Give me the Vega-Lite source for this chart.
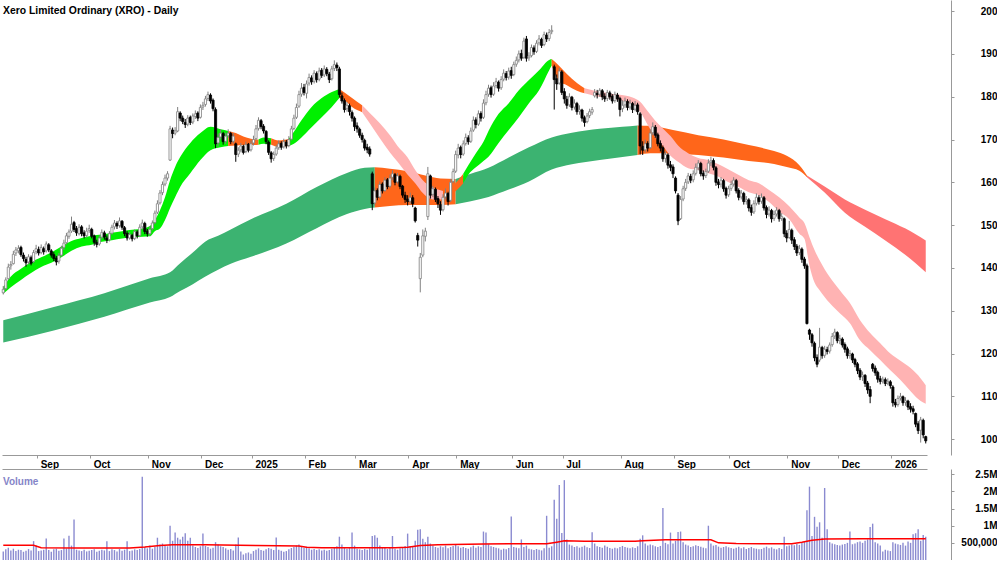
{
"$schema":"https://vega.github.io/schema/vega-lite/v6.json",
"padding":0,
"background":"white",
"spacing":0,
"config":{"view":{"stroke":null},"font":"Liberation Sans","axis":{"labelFont":"Liberation Sans","labelFontWeight":"bold","labelFontSize":10,"labelColor":"#000","domainColor":"#999","tickColor":"#999","grid":false,"labelOverlap":false}},
"datasets":{
"px":[
{"d":"2024-08-13","o":134.2,"h":135.8,"l":133.8,"c":135,"v":250000},
{"d":"2024-08-14","o":135.2,"h":137.8,"l":134.9,"c":137.2,"v":310000},
{"d":"2024-08-15","o":137.5,"h":141,"l":137.2,"c":140.2,"v":360000},
{"d":"2024-08-16","o":140.5,"h":141.6,"l":139.6,"c":140.8,"v":280000},
{"d":"2024-08-19","o":141,"h":144,"l":140.8,"c":143.2,"v":330000},
{"d":"2024-08-20","o":143.5,"h":144.9,"l":142.8,"c":144.2,"v":260000},
{"d":"2024-08-21","o":144,"h":145.3,"l":143.4,"c":144.6,"v":300000},
{"d":"2024-08-22","o":144.8,"h":145.2,"l":142.6,"c":143.1,"v":290000},
{"d":"2024-08-23","o":143,"h":143.6,"l":141.5,"c":142.2,"v":240000},
{"d":"2024-08-26","o":142,"h":142.6,"l":140.3,"c":141.2,"v":270000},
{"d":"2024-08-27","o":141.4,"h":143.2,"l":140.8,"c":142.6,"v":320000},
{"d":"2024-08-28","o":142.4,"h":142.9,"l":140.6,"c":141.1,"v":280000},
{"d":"2024-08-29","o":141.5,"h":144.2,"l":141.2,"c":143.6,"v":550000},
{"d":"2024-08-30","o":143.8,"h":145.4,"l":143.2,"c":144.5,"v":420000},
{"d":"2024-09-02","o":144.3,"h":145,"l":142.9,"c":143.5,"v":260000},
{"d":"2024-09-03","o":143.6,"h":145.5,"l":143.2,"c":144.8,"v":280000},
{"d":"2024-09-04","o":144.5,"h":145,"l":143.1,"c":143.8,"v":300000},
{"d":"2024-09-05","o":144,"h":146.2,"l":143.6,"c":145.6,"v":630000},
{"d":"2024-09-06","o":145.4,"h":145.8,"l":143.7,"c":144.2,"v":290000},
{"d":"2024-09-09","o":144,"h":144.4,"l":142.4,"c":143,"v":240000},
{"d":"2024-09-10","o":143.1,"h":143.7,"l":141.6,"c":142.2,"v":310000},
{"d":"2024-09-11","o":142.3,"h":142.8,"l":140.6,"c":141.4,"v":330000},
{"d":"2024-09-12","o":141.6,"h":143.5,"l":141,"c":142.9,"v":270000},
{"d":"2024-09-13","o":143,"h":145.2,"l":142.7,"c":144.6,"v":290000},
{"d":"2024-09-16","o":144.8,"h":146.6,"l":144.2,"c":145.8,"v":630000},
{"d":"2024-09-17","o":145.9,"h":148.2,"l":145.5,"c":147.5,"v":340000},
{"d":"2024-09-18","o":147.4,"h":149,"l":146.8,"c":148.4,"v":710000},
{"d":"2024-09-19","o":148.6,"h":152,"l":148.2,"c":150.2,"v":420000},
{"d":"2024-09-20","o":150.6,"h":151,"l":148.4,"c":149,"v":1180000},
{"d":"2024-09-23","o":149.2,"h":149.8,"l":147.5,"c":148.2,"v":300000},
{"d":"2024-09-24","o":148,"h":150.2,"l":147.6,"c":149.5,"v":280000},
{"d":"2024-09-25","o":149.6,"h":150,"l":147.4,"c":148,"v":260000},
{"d":"2024-09-26","o":148.2,"h":148.8,"l":146.9,"c":147.5,"v":300000},
{"d":"2024-09-27","o":147.6,"h":149.4,"l":147.1,"c":148.6,"v":250000},
{"d":"2024-09-30","o":148.8,"h":150.1,"l":148.2,"c":149.2,"v":270000},
{"d":"2024-10-01","o":149,"h":149.4,"l":146.9,"c":147.4,"v":290000},
{"d":"2024-10-02","o":147.5,"h":147.8,"l":145.2,"c":146,"v":310000},
{"d":"2024-10-03","o":146,"h":146.6,"l":144.8,"c":145.5,"v":240000},
{"d":"2024-10-04","o":145.6,"h":147.6,"l":145.2,"c":147,"v":270000},
{"d":"2024-10-07","o":147.2,"h":149,"l":146.8,"c":148.3,"v":300000},
{"d":"2024-10-08","o":148.2,"h":148.7,"l":146.6,"c":147.2,"v":280000},
{"d":"2024-10-09","o":147,"h":147.6,"l":145.8,"c":146.5,"v":550000},
{"d":"2024-10-10","o":146.6,"h":148.6,"l":146.2,"c":148,"v":260000},
{"d":"2024-10-11","o":148.1,"h":150.1,"l":147.8,"c":149.5,"v":310000},
{"d":"2024-10-14","o":149.6,"h":151.2,"l":149,"c":150.5,"v":290000},
{"d":"2024-10-15","o":150.4,"h":150.9,"l":149.1,"c":149.8,"v":250000},
{"d":"2024-10-16","o":149.9,"h":151.8,"l":149.4,"c":151,"v":320000},
{"d":"2024-10-17","o":150.9,"h":151.2,"l":148.9,"c":149.5,"v":270000},
{"d":"2024-10-18","o":149.4,"h":149.8,"l":147.4,"c":148,"v":300000},
{"d":"2024-10-21","o":148.1,"h":148.6,"l":146.4,"c":147,"v":550000},
{"d":"2024-10-22","o":147,"h":148.4,"l":146.6,"c":147.8,"v":260000},
{"d":"2024-10-23","o":147.6,"h":148,"l":146.2,"c":146.8,"v":280000},
{"d":"2024-10-24","o":146.9,"h":149,"l":146.5,"c":148.5,"v":310000},
{"d":"2024-10-25","o":148.4,"h":148.8,"l":146.9,"c":147.5,"v":290000},
{"d":"2024-10-28","o":147.6,"h":150.2,"l":147.2,"c":149.5,"v":320000},
{"d":"2024-10-29","o":149.6,"h":151.3,"l":149,"c":150.5,"v":2430000},
{"d":"2024-10-30","o":150.4,"h":150.8,"l":147.9,"c":148.5,"v":380000},
{"d":"2024-10-31","o":148.6,"h":149.1,"l":147.3,"c":148,"v":340000},
{"d":"2024-11-01","o":148,"h":149.7,"l":147.5,"c":149,"v":420000},
{"d":"2024-11-04","o":149.2,"h":151.1,"l":148.8,"c":150.5,"v":330000},
{"d":"2024-11-05","o":150.6,"h":153.4,"l":150.2,"c":152.8,"v":390000},
{"d":"2024-11-06","o":153,"h":155.8,"l":152.6,"c":155,"v":650000},
{"d":"2024-11-07","o":155.2,"h":158.2,"l":154.8,"c":157.5,"v":450000},
{"d":"2024-11-08","o":157.6,"h":160.2,"l":157,"c":159.5,"v":480000},
{"d":"2024-11-11","o":159.6,"h":161.8,"l":159.1,"c":161,"v":420000},
{"d":"2024-11-12","o":161,"h":162.6,"l":160.4,"c":162,"v":400000},
{"d":"2024-11-13","o":165.2,"h":173.2,"l":165,"c":172.5,"v":1000000},
{"d":"2024-11-14","o":172.2,"h":172.8,"l":170.3,"c":171.4,"v":560000},
{"d":"2024-11-15","o":171.5,"h":172.9,"l":171,"c":172,"v":800000},
{"d":"2024-11-18","o":172,"h":177.6,"l":171.7,"c":176.5,"v":650000},
{"d":"2024-11-19","o":176.2,"h":176.6,"l":174.3,"c":175,"v":600000},
{"d":"2024-11-20","o":175,"h":175.6,"l":173.6,"c":174.2,"v":680000},
{"d":"2024-11-21","o":174,"h":174.8,"l":172.7,"c":173.5,"v":780000},
{"d":"2024-11-22","o":173.6,"h":175.7,"l":173.1,"c":175,"v":560000},
{"d":"2024-11-25","o":175.2,"h":175.6,"l":173.4,"c":174,"v":650000},
{"d":"2024-11-26","o":174.1,"h":176.1,"l":173.6,"c":175.5,"v":420000},
{"d":"2024-11-27","o":175.4,"h":176.8,"l":174.8,"c":176,"v":380000},
{"d":"2024-11-28","o":176.2,"h":176.6,"l":174.3,"c":175,"v":350000},
{"d":"2024-11-29","o":175.2,"h":178.2,"l":174.9,"c":177.5,"v":400000},
{"d":"2024-12-02","o":177.6,"h":178.8,"l":176.9,"c":178,"v":770000},
{"d":"2024-12-03","o":178.2,"h":180.2,"l":177.7,"c":179.5,"v":410000},
{"d":"2024-12-04","o":179.6,"h":181.2,"l":179,"c":180.5,"v":380000},
{"d":"2024-12-05","o":180.4,"h":180.8,"l":178.4,"c":179,"v":330000},
{"d":"2024-12-06","o":179.2,"h":179.6,"l":176.6,"c":177.2,"v":360000},
{"d":"2024-12-09","o":177,"h":177.5,"l":168,"c":169,"v":520000},
{"d":"2024-12-10","o":169.2,"h":171.4,"l":168.4,"c":170.5,"v":450000},
{"d":"2024-12-11","o":170.6,"h":172.4,"l":170,"c":171.5,"v":400000},
{"d":"2024-12-12","o":171.4,"h":171.8,"l":168.8,"c":169.5,"v":380000},
{"d":"2024-12-13","o":169.6,"h":171.6,"l":169,"c":170.8,"v":340000},
{"d":"2024-12-16","o":170.9,"h":172.4,"l":170.4,"c":171.5,"v":300000},
{"d":"2024-12-17","o":171.4,"h":171.8,"l":168.9,"c":169.5,"v":320000},
{"d":"2024-12-18","o":169.6,"h":171.5,"l":169.1,"c":170.8,"v":280000},
{"d":"2024-12-19","o":169,"h":169.3,"l":164.8,"c":166.5,"v":450000},
{"d":"2024-12-20","o":166.6,"h":168.2,"l":165.9,"c":167.5,"v":660000},
{"d":"2024-12-23","o":167.6,"h":169.2,"l":167,"c":168.5,"v":250000},
{"d":"2024-12-24","o":168.4,"h":168.8,"l":166.5,"c":167,"v":160000},
{"d":"2024-12-27","o":167.2,"h":169.5,"l":166.8,"c":168.8,"v":200000},
{"d":"2024-12-30","o":168.9,"h":169.2,"l":167,"c":167.5,"v":220000},
{"d":"2024-12-31","o":167.6,"h":169.8,"l":167.2,"c":169,"v":180000},
{"d":"2025-01-02","o":169.2,"h":170.9,"l":168.6,"c":170,"v":260000},
{"d":"2025-01-03","o":170.2,"h":173.4,"l":169.8,"c":172.5,"v":300000},
{"d":"2025-01-06","o":172.6,"h":175.2,"l":172.1,"c":174.5,"v":340000},
{"d":"2025-01-07","o":174.4,"h":174.8,"l":172.4,"c":173,"v":290000},
{"d":"2025-01-08","o":173.1,"h":173.6,"l":171.4,"c":172,"v":270000},
{"d":"2025-01-09","o":171.9,"h":172.2,"l":168.9,"c":169.5,"v":310000},
{"d":"2025-01-10","o":169.4,"h":169.8,"l":166.4,"c":167,"v":350000},
{"d":"2025-01-13","o":166.9,"h":167.3,"l":164.6,"c":165.5,"v":330000},
{"d":"2025-01-14","o":165.6,"h":167.2,"l":165,"c":166.5,"v":290000},
{"d":"2025-01-15","o":166.6,"h":168.7,"l":166.2,"c":168,"v":660000},
{"d":"2025-01-16","o":168.1,"h":169.8,"l":167.6,"c":169,"v":300000},
{"d":"2025-01-17","o":169.1,"h":169.6,"l":167.6,"c":168.2,"v":270000},
{"d":"2025-01-20","o":168.3,"h":170.2,"l":167.9,"c":169.5,"v":240000},
{"d":"2025-01-21","o":169.4,"h":169.9,"l":167.9,"c":168.5,"v":260000},
{"d":"2025-01-22","o":168.6,"h":170.8,"l":168.2,"c":170,"v":310000},
{"d":"2025-01-23","o":170.1,"h":173.2,"l":169.8,"c":172.5,"v":350000},
{"d":"2025-01-24","o":172.6,"h":175.8,"l":172.2,"c":175,"v":380000},
{"d":"2025-01-28","o":175.2,"h":178.4,"l":174.8,"c":177.5,"v":420000},
{"d":"2025-01-29","o":177.8,"h":181.4,"l":177.4,"c":180.5,"v":450000},
{"d":"2025-01-30","o":180.6,"h":183.2,"l":180,"c":182,"v":400000},
{"d":"2025-01-31","o":182.2,"h":183,"l":180.3,"c":181,"v":360000},
{"d":"2025-02-03","o":180.8,"h":183.8,"l":179.6,"c":183,"v":390000},
{"d":"2025-02-04","o":183.2,"h":185.4,"l":182.6,"c":184.5,"v":340000},
{"d":"2025-02-05","o":184.4,"h":185,"l":182.8,"c":183.5,"v":300000},
{"d":"2025-02-06","o":183.6,"h":186.2,"l":183.1,"c":185.5,"v":320000},
{"d":"2025-02-07","o":185.4,"h":185.9,"l":183.3,"c":184,"v":290000},
{"d":"2025-02-10","o":184.1,"h":186.8,"l":183.6,"c":186,"v":310000},
{"d":"2025-02-11","o":186.2,"h":186.7,"l":184.4,"c":185,"v":280000},
{"d":"2025-02-12","o":185.1,"h":187.3,"l":184.6,"c":186.5,"v":300000},
{"d":"2025-02-13","o":186.4,"h":186.9,"l":184.8,"c":185.4,"v":270000},
{"d":"2025-02-14","o":185.3,"h":185.8,"l":183.2,"c":184,"v":290000},
{"d":"2025-02-17","o":184.2,"h":187.2,"l":183.8,"c":186.5,"v":330000},
{"d":"2025-02-18","o":186.6,"h":188.5,"l":186,"c":187.5,"v":360000},
{"d":"2025-02-19","o":187.4,"h":188,"l":186,"c":186.8,"v":400000},
{"d":"2025-02-20","o":186.5,"h":187,"l":179.8,"c":180.5,"v":680000},
{"d":"2025-02-21","o":180.2,"h":181,"l":178.4,"c":179,"v":450000},
{"d":"2025-02-24","o":179.1,"h":179.6,"l":176.3,"c":177,"v":380000},
{"d":"2025-02-25","o":177.2,"h":178.8,"l":176.5,"c":178,"v":330000},
{"d":"2025-02-26","o":177.9,"h":178.4,"l":175.6,"c":176.5,"v":360000},
{"d":"2025-02-27","o":176.3,"h":176.8,"l":174.2,"c":175,"v":800000},
{"d":"2025-02-28","o":175,"h":175.4,"l":172,"c":173,"v":420000},
{"d":"2025-03-03","o":173.2,"h":174,"l":171.6,"c":172.5,"v":330000},
{"d":"2025-03-04","o":172.4,"h":172.8,"l":170.4,"c":171,"v":310000},
{"d":"2025-03-05","o":171,"h":171.6,"l":169.3,"c":170,"v":290000},
{"d":"2025-03-06","o":169.8,"h":170.2,"l":167.4,"c":168,"v":320000},
{"d":"2025-03-07","o":168.2,"h":169,"l":166.8,"c":167.6,"v":300000},
{"d":"2025-03-10","o":167.8,"h":168.4,"l":166,"c":166.6,"v":340000},
{"d":"2025-03-11","o":162,"h":162.5,"l":153.5,"c":155,"v":700000},
{"d":"2025-03-12","o":155.2,"h":158.8,"l":154.6,"c":158,"v":720000},
{"d":"2025-03-13","o":158.1,"h":158.6,"l":155.8,"c":156.5,"v":650000},
{"d":"2025-03-14","o":156.6,"h":160.2,"l":156.2,"c":159.5,"v":420000},
{"d":"2025-03-17","o":159.6,"h":160,"l":157.4,"c":158,"v":380000},
{"d":"2025-03-18","o":158.1,"h":161.2,"l":157.8,"c":160.5,"v":350000},
{"d":"2025-03-19","o":160.6,"h":161,"l":158.4,"c":159,"v":320000},
{"d":"2025-03-20","o":159.1,"h":161.8,"l":158.7,"c":161,"v":360000},
{"d":"2025-03-21","o":161.2,"h":162.8,"l":160.5,"c":162,"v":700000},
{"d":"2025-03-24","o":161.8,"h":162.2,"l":159.3,"c":160,"v":330000},
{"d":"2025-03-25","o":160.1,"h":162.2,"l":159.7,"c":161.5,"v":300000},
{"d":"2025-03-26","o":161.4,"h":161.8,"l":158.4,"c":159,"v":340000},
{"d":"2025-03-27","o":159.1,"h":159.4,"l":156.4,"c":157,"v":380000},
{"d":"2025-03-28","o":157,"h":157.8,"l":155.2,"c":156,"v":410000},
{"d":"2025-03-31","o":156.1,"h":157,"l":154.6,"c":155.5,"v":770000},
{"d":"2025-04-01","o":155.6,"h":157.6,"l":154.8,"c":156.5,"v":400000},
{"d":"2025-04-02","o":156.4,"h":157,"l":154.2,"c":155,"v":380000},
{"d":"2025-04-03","o":154,"h":154.3,"l":150.6,"c":151,"v":560000},
{"d":"2025-04-04","o":147.6,"h":148.2,"l":145,"c":146.5,"v":880000},
{"d":"2025-04-07","o":137.5,"h":143.5,"l":134.3,"c":142.5,"v":900000},
{"d":"2025-04-08","o":143,"h":149,"l":142.5,"c":147.5,"v":620000},
{"d":"2025-04-09","o":147.4,"h":149.4,"l":146.2,"c":148.6,"v":520000},
{"d":"2025-04-10","o":152,"h":163.6,"l":151.2,"c":162,"v":680000},
{"d":"2025-04-11","o":161.5,"h":161.8,"l":156.2,"c":157,"v":480000},
{"d":"2025-04-14","o":157.2,"h":159.2,"l":156.6,"c":158.5,"v":420000},
{"d":"2025-04-15","o":158.4,"h":158.8,"l":155.4,"c":156,"v":380000},
{"d":"2025-04-16","o":156.2,"h":156.8,"l":154,"c":155,"v":360000},
{"d":"2025-04-17","o":154.8,"h":155.6,"l":152.4,"c":153.5,"v":400000},
{"d":"2025-04-22","o":153.6,"h":157.2,"l":153.2,"c":156.5,"v":370000},
{"d":"2025-04-23","o":156.6,"h":158.6,"l":156,"c":157.5,"v":420000},
{"d":"2025-04-24","o":157.4,"h":157.8,"l":154.6,"c":155.5,"v":340000},
{"d":"2025-04-28","o":155.8,"h":160.8,"l":155.4,"c":160,"v":380000},
{"d":"2025-04-29","o":160.2,"h":163.2,"l":159.8,"c":162.5,"v":410000},
{"d":"2025-04-30","o":162.6,"h":167.4,"l":162.2,"c":166.5,"v":450000},
{"d":"2025-05-01","o":166.4,"h":169,"l":165.6,"c":168,"v":400000},
{"d":"2025-05-02","o":168.2,"h":168.6,"l":165.6,"c":166.5,"v":360000},
{"d":"2025-05-05","o":166.6,"h":169.8,"l":166.2,"c":169,"v":380000},
{"d":"2025-05-06","o":169.1,"h":171.4,"l":168.6,"c":170.5,"v":350000},
{"d":"2025-05-07","o":170.4,"h":171,"l":168.8,"c":169.5,"v":330000},
{"d":"2025-05-08","o":169.6,"h":172.8,"l":169.2,"c":172,"v":370000},
{"d":"2025-05-09","o":172.2,"h":175.4,"l":171.8,"c":174.5,"v":420000},
{"d":"2025-05-12","o":174.6,"h":175.2,"l":172.6,"c":173.5,"v":360000},
{"d":"2025-05-13","o":173.6,"h":176.8,"l":173.2,"c":176,"v":400000},
{"d":"2025-05-14","o":176.1,"h":176.6,"l":174.2,"c":175,"v":380000},
{"d":"2025-05-15","o":175.2,"h":179.4,"l":174.8,"c":178.5,"v":830000},
{"d":"2025-05-16","o":178.6,"h":181.4,"l":178,"c":180.5,"v":800000},
{"d":"2025-05-19","o":180.6,"h":182.8,"l":180,"c":182,"v":460000},
{"d":"2025-05-20","o":182.1,"h":182.6,"l":179.8,"c":180.5,"v":400000},
{"d":"2025-05-21","o":180.6,"h":183.4,"l":180.2,"c":182.5,"v":380000},
{"d":"2025-05-22","o":182.6,"h":184.4,"l":182,"c":183.5,"v":360000},
{"d":"2025-05-23","o":183.4,"h":183.8,"l":181.2,"c":182,"v":340000},
{"d":"2025-05-26","o":182.1,"h":184.8,"l":181.6,"c":184,"v":300000},
{"d":"2025-05-27","o":184.1,"h":186.4,"l":183.6,"c":185.5,"v":330000},
{"d":"2025-05-28","o":185.4,"h":186,"l":183.8,"c":184.5,"v":310000},
{"d":"2025-05-29","o":184.6,"h":186.8,"l":184,"c":186,"v":350000},
{"d":"2025-05-30","o":186.1,"h":187,"l":184.2,"c":185,"v":1270000},
{"d":"2025-06-02","o":185.2,"h":188.2,"l":184.8,"c":187.5,"v":380000},
{"d":"2025-06-03","o":187.6,"h":189.4,"l":187,"c":188.5,"v":360000},
{"d":"2025-06-04","o":188.6,"h":190.8,"l":188,"c":190,"v":340000},
{"d":"2025-06-05","o":190.1,"h":191,"l":188.4,"c":189,"v":600000},
{"d":"2025-06-06","o":189.2,"h":193.8,"l":188.8,"c":193,"v":380000},
{"d":"2025-06-10","o":193.5,"h":194.2,"l":188.2,"c":189,"v":420000},
{"d":"2025-06-11","o":189.1,"h":190.4,"l":188.4,"c":189.5,"v":330000},
{"d":"2025-06-12","o":189.6,"h":192.2,"l":189.2,"c":191.5,"v":310000},
{"d":"2025-06-13","o":191.4,"h":192,"l":189.8,"c":190.5,"v":290000},
{"d":"2025-06-16","o":190.6,"h":193.2,"l":190.2,"c":192.5,"v":320000},
{"d":"2025-06-17","o":192.6,"h":194.4,"l":192,"c":193.5,"v":300000},
{"d":"2025-06-18","o":193.4,"h":193.8,"l":191.4,"c":192,"v":280000},
{"d":"2025-06-19","o":192.2,"h":195.2,"l":191.8,"c":194.5,"v":340000},
{"d":"2025-06-20","o":194.4,"h":195,"l":192.8,"c":193.5,"v":1290000},
{"d":"2025-06-23","o":193.6,"h":195.8,"l":193,"c":195,"v":360000},
{"d":"2025-06-24","o":195.2,"h":196.7,"l":194.6,"c":195.5,"v":400000},
{"d":"2025-06-25","o":187,"h":187.5,"l":177,"c":184,"v":1760000},
{"d":"2025-06-26","o":184.2,"h":185.2,"l":181.6,"c":183,"v":1200000},
{"d":"2025-06-27","o":183.2,"h":186.8,"l":182.8,"c":186,"v":2190000},
{"d":"2025-06-30","o":185.8,"h":186.2,"l":180.4,"c":181,"v":790000},
{"d":"2025-07-01","o":181.2,"h":182,"l":178.4,"c":179.5,"v":2330000},
{"d":"2025-07-02","o":179.4,"h":180.2,"l":177.2,"c":178,"v":600000},
{"d":"2025-07-03","o":178.1,"h":180.8,"l":177.6,"c":180,"v":450000},
{"d":"2025-07-04","o":179.9,"h":180.2,"l":176.8,"c":177.5,"v":420000},
{"d":"2025-07-07","o":177.6,"h":179.4,"l":177,"c":178.5,"v":380000},
{"d":"2025-07-08","o":178.4,"h":178.8,"l":175.8,"c":176.5,"v":400000},
{"d":"2025-07-09","o":176.6,"h":178,"l":175.8,"c":177,"v":360000},
{"d":"2025-07-10","o":176.9,"h":177.2,"l":174.2,"c":175,"v":390000},
{"d":"2025-07-11","o":175.1,"h":175.6,"l":173,"c":174,"v":420000},
{"d":"2025-07-14","o":174.2,"h":176.2,"l":173.8,"c":175.5,"v":370000},
{"d":"2025-07-15","o":175.6,"h":177.2,"l":175,"c":176.5,"v":350000},
{"d":"2025-07-16","o":176.4,"h":177.6,"l":175.8,"c":177,"v":810000},
{"d":"2025-07-17","o":180.2,"h":181.8,"l":179.8,"c":181,"v":480000},
{"d":"2025-07-18","o":180.8,"h":181.6,"l":179.6,"c":180.5,"v":400000},
{"d":"2025-07-21","o":180.6,"h":182,"l":180,"c":181.5,"v":380000},
{"d":"2025-07-22","o":181.4,"h":181.8,"l":179.2,"c":180,"v":360000},
{"d":"2025-07-23","o":180.1,"h":180.8,"l":178.8,"c":179.5,"v":420000},
{"d":"2025-07-24","o":179.6,"h":181.6,"l":179,"c":181,"v":390000},
{"d":"2025-07-25","o":180.9,"h":181.4,"l":179.3,"c":180,"v":350000},
{"d":"2025-07-28","o":180.1,"h":180.6,"l":178.4,"c":179,"v":330000},
{"d":"2025-07-29","o":179.1,"h":181.2,"l":178.6,"c":180.5,"v":360000},
{"d":"2025-07-30","o":180.4,"h":180.9,"l":178.8,"c":179.5,"v":340000},
{"d":"2025-07-31","o":179.6,"h":180,"l":175.4,"c":177,"v":380000},
{"d":"2025-08-01","o":177.2,"h":179.2,"l":176.4,"c":178,"v":410000},
{"d":"2025-08-04","o":178.1,"h":179.8,"l":177.4,"c":179,"v":380000},
{"d":"2025-08-05","o":178.9,"h":179.4,"l":176.8,"c":177.5,"v":360000},
{"d":"2025-08-06","o":177.6,"h":179.3,"l":177,"c":178.5,"v":340000},
{"d":"2025-08-07","o":178.4,"h":178.8,"l":176.2,"c":177,"v":370000},
{"d":"2025-08-08","o":177.1,"h":179,"l":176.6,"c":178,"v":350000},
{"d":"2025-08-11","o":178.1,"h":178.6,"l":175.8,"c":176.5,"v":400000},
{"d":"2025-08-12","o":176,"h":176.4,"l":166.5,"c":168.5,"v":620000},
{"d":"2025-08-13","o":168.4,"h":169.6,"l":166.4,"c":167.5,"v":720000},
{"d":"2025-08-14","o":167.6,"h":170,"l":167,"c":169,"v":480000},
{"d":"2025-08-15","o":169.1,"h":169.6,"l":167.2,"c":168,"v":420000},
{"d":"2025-08-18","o":168.1,"h":172.4,"l":167.8,"c":171.5,"v":450000},
{"d":"2025-08-19","o":171.6,"h":174,"l":171,"c":173,"v":430000},
{"d":"2025-08-20","o":172.9,"h":173.4,"l":170.4,"c":171,"v":400000},
{"d":"2025-08-21","o":171.1,"h":171.6,"l":168.4,"c":169,"v":380000},
{"d":"2025-08-22","o":169.1,"h":169.8,"l":167.2,"c":168,"v":410000},
{"d":"2025-08-25","o":168.1,"h":168.6,"l":164.8,"c":165.5,"v":1520000},
{"d":"2025-08-26","o":165.6,"h":167.2,"l":164.6,"c":166.5,"v":500000},
{"d":"2025-08-27","o":166.4,"h":166.8,"l":163.2,"c":164,"v":460000},
{"d":"2025-08-28","o":164.1,"h":165,"l":162.6,"c":163.5,"v":800000},
{"d":"2025-08-29","o":163.6,"h":164.2,"l":161,"c":162,"v":480000},
{"d":"2025-09-01","o":161,"h":161.4,"l":157.4,"c":158,"v":560000},
{"d":"2025-09-02","o":157,"h":157.5,"l":150,"c":151,"v":820000},
{"d":"2025-09-03","o":151.5,"h":156.8,"l":151.2,"c":156,"v":830000},
{"d":"2025-09-04","o":156.1,"h":159.2,"l":155.6,"c":158.5,"v":520000},
{"d":"2025-09-05","o":158.6,"h":160.8,"l":158,"c":160,"v":450000},
{"d":"2025-09-08","o":160.1,"h":162.2,"l":159.6,"c":161.5,"v":420000},
{"d":"2025-09-09","o":161.4,"h":162,"l":159.8,"c":160.5,"v":380000},
{"d":"2025-09-10","o":160.6,"h":162.8,"l":160,"c":162,"v":400000},
{"d":"2025-09-11","o":162.1,"h":164.4,"l":161.6,"c":163.5,"v":430000},
{"d":"2025-09-12","o":163.4,"h":165.2,"l":162.8,"c":164.5,"v":410000},
{"d":"2025-09-15","o":164.4,"h":164.8,"l":161.4,"c":162,"v":390000},
{"d":"2025-09-16","o":162.1,"h":162.8,"l":160.6,"c":161.5,"v":360000},
{"d":"2025-09-17","o":161.6,"h":163.2,"l":161,"c":162.5,"v":340000},
{"d":"2025-09-18","o":162.6,"h":165.4,"l":162.2,"c":164.5,"v":1000000},
{"d":"2025-09-19","o":164.6,"h":166,"l":163.8,"c":165,"v":480000},
{"d":"2025-09-22","o":165.1,"h":165.6,"l":162.8,"c":163.5,"v":420000},
{"d":"2025-09-23","o":163.4,"h":163.8,"l":159.2,"c":160,"v":440000},
{"d":"2025-09-24","o":160.1,"h":160.8,"l":158.6,"c":159.5,"v":390000},
{"d":"2025-09-25","o":159.6,"h":161.2,"l":158.8,"c":160.5,"v":360000},
{"d":"2025-09-26","o":160.4,"h":160.8,"l":157.8,"c":158.5,"v":380000},
{"d":"2025-09-29","o":158.6,"h":159,"l":156.2,"c":157,"v":400000},
{"d":"2025-09-30","o":157.1,"h":159.2,"l":156.6,"c":158.5,"v":370000},
{"d":"2025-10-01","o":158.6,"h":160.4,"l":158,"c":159.5,"v":350000},
{"d":"2025-10-02","o":159.6,"h":161.2,"l":159,"c":160.5,"v":330000},
{"d":"2025-10-03","o":160.4,"h":160.8,"l":157.4,"c":158,"v":360000},
{"d":"2025-10-06","o":158.1,"h":158.6,"l":155.8,"c":156.5,"v":390000},
{"d":"2025-10-07","o":156.6,"h":158.2,"l":156,"c":157.5,"v":340000},
{"d":"2025-10-08","o":157.4,"h":157.8,"l":154.8,"c":155.5,"v":370000},
{"d":"2025-10-09","o":155.6,"h":156.8,"l":154.8,"c":156,"v":320000},
{"d":"2025-10-10","o":155.9,"h":156.3,"l":153.2,"c":154,"v":350000},
{"d":"2025-10-13","o":154.1,"h":154.8,"l":152.2,"c":153,"v":380000},
{"d":"2025-10-14","o":153.1,"h":155.8,"l":152.6,"c":155,"v":340000},
{"d":"2025-10-15","o":155.1,"h":157.4,"l":154.6,"c":156.5,"v":330000},
{"d":"2025-10-16","o":156.4,"h":157,"l":154.8,"c":155.5,"v":310000},
{"d":"2025-10-17","o":155.6,"h":157.4,"l":155,"c":156.5,"v":320000},
{"d":"2025-10-20","o":156.4,"h":156.8,"l":153.4,"c":154,"v":360000},
{"d":"2025-10-21","o":154.1,"h":154.6,"l":151.6,"c":152.5,"v":390000},
{"d":"2025-10-22","o":152.6,"h":154.4,"l":152,"c":153.5,"v":340000},
{"d":"2025-10-23","o":153.4,"h":153.8,"l":150.6,"c":151.5,"v":370000},
{"d":"2025-10-24","o":151.6,"h":153.4,"l":151,"c":152.5,"v":330000},
{"d":"2025-10-27","o":152.6,"h":154.2,"l":152,"c":153.5,"v":310000},
{"d":"2025-10-28","o":153.4,"h":153.8,"l":150.8,"c":151.5,"v":350000},
{"d":"2025-10-29","o":151.6,"h":152.8,"l":151,"c":152,"v":320000},
{"d":"2025-10-30","o":151.5,"h":151.8,"l":147.2,"c":148,"v":680000},
{"d":"2025-10-31","o":148.1,"h":148.8,"l":146,"c":147,"v":400000},
{"d":"2025-11-03","o":147.1,"h":151,"l":146.8,"c":149,"v":420000},
{"d":"2025-11-04","o":148.8,"h":149.2,"l":145.6,"c":146.5,"v":450000},
{"d":"2025-11-05","o":146.6,"h":147.2,"l":144.2,"c":145,"v":430000},
{"d":"2025-11-06","o":145.1,"h":145.6,"l":142.8,"c":143.5,"v":470000},
{"d":"2025-11-07","o":143.6,"h":145.4,"l":143,"c":144.5,"v":440000},
{"d":"2025-11-10","o":144.4,"h":144.8,"l":141.2,"c":142,"v":500000},
{"d":"2025-11-11","o":142.1,"h":142.6,"l":139.8,"c":140.5,"v":550000},
{"d":"2025-11-12","o":140.5,"h":141,"l":126.8,"c":127,"v":1450000},
{"d":"2025-11-13","o":125.5,"h":125.8,"l":123.2,"c":124.5,"v":2140000},
{"d":"2025-11-14","o":124.4,"h":124.8,"l":121.6,"c":122.5,"v":700000},
{"d":"2025-11-17","o":122.4,"h":122.8,"l":118.2,"c":119,"v":1260000},
{"d":"2025-11-18","o":119.1,"h":119.8,"l":116.8,"c":117.5,"v":970000},
{"d":"2025-11-19","o":118.5,"h":126,"l":118,"c":121.5,"v":1100000},
{"d":"2025-11-20","o":121.4,"h":121.8,"l":118.8,"c":119.5,"v":650000},
{"d":"2025-11-21","o":119.6,"h":121.8,"l":119,"c":121,"v":2100000},
{"d":"2025-11-24","o":120.9,"h":121.6,"l":119.8,"c":120.5,"v":900000},
{"d":"2025-11-25","o":120.6,"h":122.6,"l":120,"c":122,"v":520000},
{"d":"2025-11-26","o":122.1,"h":124.8,"l":121.6,"c":124,"v":480000},
{"d":"2025-11-27","o":124.1,"h":125.8,"l":123.4,"c":125,"v":460000},
{"d":"2025-11-28","o":124.9,"h":125.2,"l":122.4,"c":123,"v":440000},
{"d":"2025-12-01","o":123.1,"h":124.4,"l":122.2,"c":123.5,"v":420000},
{"d":"2025-12-02","o":123.4,"h":123.8,"l":121.4,"c":122,"v":450000},
{"d":"2025-12-03","o":122.1,"h":122.6,"l":120.2,"c":121,"v":470000},
{"d":"2025-12-04","o":121.1,"h":121.6,"l":118.8,"c":119.5,"v":500000},
{"d":"2025-12-05","o":119.6,"h":120.8,"l":118.8,"c":120,"v":830000},
{"d":"2025-12-08","o":119.9,"h":120.2,"l":117.8,"c":118.5,"v":460000},
{"d":"2025-12-09","o":118.6,"h":119,"l":116.8,"c":117.5,"v":480000},
{"d":"2025-12-10","o":117.6,"h":118,"l":115.2,"c":116,"v":520000},
{"d":"2025-12-11","o":116.1,"h":116.6,"l":113.8,"c":114.5,"v":540000},
{"d":"2025-12-12","o":114.6,"h":115.8,"l":113.6,"c":115,"v":500000},
{"d":"2025-12-15","o":114.9,"h":115.2,"l":112.2,"c":113,"v":560000},
{"d":"2025-12-16","o":113.1,"h":113.6,"l":110.6,"c":111.5,"v":600000},
{"d":"2025-12-17","o":111.6,"h":112.4,"l":108.4,"c":110,"v":960000},
{"d":"2025-12-18","o":117.5,"h":117.8,"l":115.8,"c":116.5,"v":1060000},
{"d":"2025-12-19","o":116.6,"h":117.2,"l":114.8,"c":115.5,"v":520000},
{"d":"2025-12-22","o":115.6,"h":116,"l":113.2,"c":114,"v":480000},
{"d":"2025-12-23","o":114.1,"h":114.8,"l":112.8,"c":113.5,"v":420000},
{"d":"2025-12-24","o":113.6,"h":114.6,"l":113,"c":114,"v":250000},
{"d":"2025-12-29","o":113.9,"h":114.4,"l":112.4,"c":113,"v":300000},
{"d":"2025-12-30","o":113.1,"h":114.2,"l":112.6,"c":113.5,"v":280000},
{"d":"2025-12-31","o":113.4,"h":113.8,"l":111.8,"c":112.5,"v":260000},
{"d":"2026-01-02","o":112.2,"h":112.6,"l":107.6,"c":108.5,"v":520000},
{"d":"2026-01-05","o":108.6,"h":109.4,"l":107.4,"c":108,"v":480000},
{"d":"2026-01-06","o":108.1,"h":110.2,"l":107.6,"c":109.5,"v":460000},
{"d":"2026-01-07","o":109.6,"h":110.8,"l":109,"c":110,"v":440000},
{"d":"2026-01-08","o":109.9,"h":110.2,"l":107.8,"c":108.5,"v":500000},
{"d":"2026-01-09","o":108.6,"h":109.8,"l":107.8,"c":109,"v":420000},
{"d":"2026-01-12","o":108.9,"h":109.2,"l":106.8,"c":107.5,"v":540000},
{"d":"2026-01-13","o":107.6,"h":108.4,"l":106.2,"c":107,"v":500000},
{"d":"2026-01-14","o":107.1,"h":107.8,"l":105.8,"c":106.5,"v":750000},
{"d":"2026-01-15","o":106,"h":106.2,"l":102.8,"c":103.5,"v":780000},
{"d":"2026-01-16","o":103.6,"h":104.2,"l":101.2,"c":102,"v":900000},
{"d":"2026-01-19","o":102.1,"h":105.2,"l":99.2,"c":104.5,"v":560000},
{"d":"2026-01-20","o":104.4,"h":104.8,"l":100.2,"c":101,"v":730000},
{"d":"2026-01-21","o":100.6,"h":100.8,"l":99,"c":99.6,"v":680000}
],
"rs":[
{"d":"2024-08-13","hi":135.5,"lo":134,"t":"su","g":1},
{"d":"2024-08-16","hi":138,"lo":135.5,"t":"su","g":1},
{"d":"2024-08-22","hi":139.8,"lo":137.2,"t":"su","g":1},
{"d":"2024-08-28","hi":141.4,"lo":138.8,"t":"su","g":1},
{"d":"2024-09-03","hi":142.5,"lo":140.2,"t":"su","g":1},
{"d":"2024-09-09","hi":143.6,"lo":141.2,"t":"su","g":1},
{"d":"2024-09-13","hi":145,"lo":142.5,"t":"su","g":1},
{"d":"2024-09-19","hi":146.3,"lo":144,"t":"su","g":1},
{"d":"2024-09-25","hi":147,"lo":145,"t":"su","g":1},
{"d":"2024-10-01","hi":147.5,"lo":145.4,"t":"su","g":1},
{"d":"2024-10-07","hi":147.8,"lo":146.1,"t":"su","g":1},
{"d":"2024-10-11","hi":148.2,"lo":146.5,"t":"su","g":1},
{"d":"2024-10-17","hi":148.6,"lo":146.9,"t":"su","g":1},
{"d":"2024-10-23","hi":148.9,"lo":147.2,"t":"su","g":1},
{"d":"2024-10-29","hi":149.2,"lo":147.3,"t":"su","g":1},
{"d":"2024-11-01","hi":149.8,"lo":147.4,"t":"su","g":1},
{"d":"2024-11-05","hi":151.2,"lo":148.6,"t":"su","g":1},
{"d":"2024-11-07","hi":153.5,"lo":149.2,"t":"su","g":1},
{"d":"2024-11-11","hi":156.5,"lo":151.2,"t":"su","g":1},
{"d":"2024-11-13","hi":160.5,"lo":154,"t":"su","g":1},
{"d":"2024-11-15","hi":163.6,"lo":156.5,"t":"su","g":1},
{"d":"2024-11-19","hi":165.9,"lo":158.9,"t":"su","g":1},
{"d":"2024-11-25","hi":169.2,"lo":162.1,"t":"su","g":1},
{"d":"2024-11-29","hi":171.5,"lo":165.2,"t":"su","g":1},
{"d":"2024-12-05","hi":173,"lo":167.5,"t":"su","g":1},
{"d":"2024-12-11","hi":172.4,"lo":168.2,"t":"su","g":1},
{"d":"2024-12-16","hi":172,"lo":168.5,"t":"su","g":1},
{"d":"2024-12-16","hi":172,"lo":168.5,"t":"st","g":2},
{"d":"2024-12-19","hi":171.5,"lo":168.6,"t":"st","g":2},
{"d":"2024-12-24","hi":170.7,"lo":168.7,"t":"st","g":2},
{"d":"2024-12-31","hi":170.2,"lo":168.7,"t":"st","g":2},
{"d":"2025-01-06","hi":170,"lo":168.8,"t":"st","g":2},
{"d":"2025-01-06","hi":170,"lo":168.8,"t":"su","g":3},
{"d":"2025-01-08","hi":170.5,"lo":169,"t":"su","g":3},
{"d":"2025-01-13","hi":170.3,"lo":168.8,"t":"su","g":3},
{"d":"2025-01-13","hi":170.3,"lo":168.8,"t":"st","g":4},
{"d":"2025-01-16","hi":169.8,"lo":168.3,"t":"st","g":4},
{"d":"2025-01-22","hi":170.2,"lo":168.5,"t":"st","g":4},
{"d":"2025-01-22","hi":170.2,"lo":168.5,"t":"su","g":5},
{"d":"2025-01-24","hi":171.8,"lo":169,"t":"su","g":5},
{"d":"2025-01-30","hi":174.5,"lo":170.5,"t":"su","g":5},
{"d":"2025-02-05","hi":177.6,"lo":172.9,"t":"su","g":5},
{"d":"2025-02-11","hi":179.7,"lo":175.2,"t":"su","g":5},
{"d":"2025-02-17","hi":181.1,"lo":177.6,"t":"su","g":5},
{"d":"2025-02-20","hi":181.8,"lo":179.7,"t":"su","g":5},
{"d":"2025-02-20","hi":181.8,"lo":179.7,"t":"st","g":6},
{"d":"2025-02-24","hi":181,"lo":179.2,"t":"st","g":6},
{"d":"2025-02-27","hi":179.7,"lo":177.6,"t":"st","g":6},
{"d":"2025-03-05","hi":178,"lo":176.4,"t":"st","g":6},
{"d":"2025-03-05","hi":178,"lo":176.4,"t":"sd","g":7},
{"d":"2025-03-10","hi":176.2,"lo":173.8,"t":"sd","g":7},
{"d":"2025-03-14","hi":173.8,"lo":170.3,"t":"sd","g":7},
{"d":"2025-03-20","hi":171,"lo":167,"t":"sd","g":7},
{"d":"2025-03-25","hi":168.5,"lo":164.8,"t":"sd","g":7},
{"d":"2025-03-31","hi":165.8,"lo":161.8,"t":"sd","g":7},
{"d":"2025-04-03","hi":162.9,"lo":159.8,"t":"sd","g":7},
{"d":"2025-04-08","hi":160.5,"lo":157.5,"t":"sd","g":7},
{"d":"2025-04-14","hi":158.8,"lo":156,"t":"sd","g":7},
{"d":"2025-04-22","hi":158,"lo":156,"t":"sd","g":7},
{"d":"2025-04-22","hi":158,"lo":156,"t":"st","g":8},
{"d":"2025-04-28","hi":158.8,"lo":157,"t":"st","g":8},
{"d":"2025-05-01","hi":160.5,"lo":158.5,"t":"st","g":8},
{"d":"2025-05-05","hi":162,"lo":159.8,"t":"st","g":8},
{"d":"2025-05-05","hi":162,"lo":159.8,"t":"su","g":9},
{"d":"2025-05-07","hi":164,"lo":161.8,"t":"su","g":9},
{"d":"2025-05-12","hi":166.8,"lo":163.5,"t":"su","g":9},
{"d":"2025-05-15","hi":169.5,"lo":165,"t":"su","g":9},
{"d":"2025-05-19","hi":172,"lo":166,"t":"su","g":9},
{"d":"2025-05-23","hi":176,"lo":169.2,"t":"su","g":9},
{"d":"2025-05-29","hi":178.5,"lo":172.2,"t":"su","g":9},
{"d":"2025-06-04","hi":181.5,"lo":175.2,"t":"su","g":9},
{"d":"2025-06-11","hi":183.9,"lo":178.5,"t":"su","g":9},
{"d":"2025-06-17","hi":186.2,"lo":181.5,"t":"su","g":9},
{"d":"2025-06-23","hi":188.6,"lo":186.2,"t":"su","g":9},
{"d":"2025-06-24","hi":188.8,"lo":187.3,"t":"su","g":9},
{"d":"2025-06-24","hi":188.8,"lo":187.3,"t":"st","g":10},
{"d":"2025-06-27","hi":187.2,"lo":183.6,"t":"st","g":10},
{"d":"2025-07-02","hi":185.3,"lo":182.7,"t":"st","g":10},
{"d":"2025-07-08","hi":183.2,"lo":181.4,"t":"st","g":10},
{"d":"2025-07-11","hi":182,"lo":180.8,"t":"st","g":10},
{"d":"2025-07-11","hi":182,"lo":180.8,"t":"sd","g":11},
{"d":"2025-07-17","hi":181.4,"lo":180.2,"t":"sd","g":11},
{"d":"2025-07-23","hi":181,"lo":179.8,"t":"sd","g":11},
{"d":"2025-07-29","hi":180.6,"lo":179.4,"t":"sd","g":11},
{"d":"2025-08-04","hi":180.3,"lo":178.8,"t":"sd","g":11},
{"d":"2025-08-07","hi":179.8,"lo":178,"t":"sd","g":11},
{"d":"2025-08-12","hi":178.8,"lo":176.5,"t":"sd","g":11},
{"d":"2025-08-15","hi":176.6,"lo":173.4,"t":"sd","g":11},
{"d":"2025-08-20","hi":174.4,"lo":170.5,"t":"sd","g":11},
{"d":"2025-08-25","hi":172.6,"lo":168.5,"t":"sd","g":11},
{"d":"2025-08-28","hi":170.8,"lo":166.2,"t":"sd","g":11},
{"d":"2025-09-02","hi":168.6,"lo":164.8,"t":"sd","g":11},
{"d":"2025-09-08","hi":166.8,"lo":163.3,"t":"sd","g":11},
{"d":"2025-09-12","hi":165.7,"lo":162.9,"t":"sd","g":11},
{"d":"2025-09-18","hi":165.2,"lo":162.1,"t":"sd","g":11},
{"d":"2025-09-24","hi":164.2,"lo":161.3,"t":"sd","g":11},
{"d":"2025-09-30","hi":163,"lo":160,"t":"sd","g":11},
{"d":"2025-10-06","hi":161.7,"lo":158.9,"t":"sd","g":11},
{"d":"2025-10-10","hi":160.5,"lo":157.7,"t":"sd","g":11},
{"d":"2025-10-16","hi":159.8,"lo":157,"t":"sd","g":11},
{"d":"2025-10-22","hi":158.2,"lo":155.4,"t":"sd","g":11},
{"d":"2025-10-28","hi":156.5,"lo":153.2,"t":"sd","g":11},
{"d":"2025-11-03","hi":154.4,"lo":151.4,"t":"sd","g":11},
{"d":"2025-11-07","hi":151.8,"lo":148,"t":"sd","g":11},
{"d":"2025-11-11","hi":150.5,"lo":146.8,"t":"sd","g":11},
{"d":"2025-11-13","hi":147.2,"lo":140.5,"t":"sd","g":11},
{"d":"2025-11-17","hi":144.2,"lo":136.6,"t":"sd","g":11},
{"d":"2025-11-19","hi":141.8,"lo":134.8,"t":"sd","g":11},
{"d":"2025-11-25","hi":137.9,"lo":131.8,"t":"sd","g":11},
{"d":"2025-12-01","hi":134.8,"lo":129.4,"t":"sd","g":11},
{"d":"2025-12-05","hi":131.8,"lo":127.1,"t":"sd","g":11},
{"d":"2025-12-11","hi":127.8,"lo":123.1,"t":"sd","g":11},
{"d":"2025-12-17","hi":124.8,"lo":120.8,"t":"sd","g":11},
{"d":"2025-12-23","hi":122.4,"lo":118.5,"t":"sd","g":11},
{"d":"2025-12-31","hi":120,"lo":116.1,"t":"sd","g":11},
{"d":"2026-01-07","hi":118.3,"lo":113.8,"t":"sd","g":11},
{"d":"2026-01-13","hi":116.6,"lo":111.2,"t":"sd","g":11},
{"d":"2026-01-19","hi":114.2,"lo":108.9,"t":"sd","g":11},
{"d":"2026-01-21","hi":112.6,"lo":108.3,"t":"sd","g":11}
],
"rl":[
{"d":"2024-08-13","hi":127.8,"lo":122.6,"t":"lu","g":1},
{"d":"2024-09-10","hi":130.9,"lo":125.4,"t":"lu","g":1},
{"d":"2024-10-08","hi":134.1,"lo":128.6,"t":"lu","g":1},
{"d":"2024-11-01","hi":137.6,"lo":131.9,"t":"lu","g":1},
{"d":"2024-11-13","hi":139,"lo":133.2,"t":"lu","g":1},
{"d":"2024-11-19","hi":141.1,"lo":134.6,"t":"lu","g":1},
{"d":"2024-11-26","hi":143.6,"lo":136.2,"t":"lu","g":1},
{"d":"2024-12-03","hi":146.2,"lo":138,"t":"lu","g":1},
{"d":"2024-12-10","hi":147.5,"lo":139.6,"t":"lu","g":1},
{"d":"2024-12-17","hi":149,"lo":141,"t":"lu","g":1},
{"d":"2024-12-31","hi":151.4,"lo":142.6,"t":"lu","g":1},
{"d":"2025-01-21","hi":155,"lo":145.7,"t":"lu","g":1},
{"d":"2025-02-07","hi":158.9,"lo":149.3,"t":"lu","g":1},
{"d":"2025-02-25","hi":162.2,"lo":152.6,"t":"lu","g":1},
{"d":"2025-03-06","hi":163.4,"lo":153.8,"t":"lu","g":1},
{"d":"2025-03-12","hi":163.5,"lo":154.1,"t":"lu","g":1},
{"d":"2025-03-12","hi":163.5,"lo":154.1,"t":"lt","g":2},
{"d":"2025-03-20","hi":163.2,"lo":154.5,"t":"lt","g":2},
{"d":"2025-03-31","hi":162.6,"lo":154.7,"t":"lt","g":2},
{"d":"2025-04-09","hi":161.6,"lo":154.7,"t":"lt","g":2},
{"d":"2025-04-17","hi":160.9,"lo":154.7,"t":"lt","g":2},
{"d":"2025-04-30","hi":160.8,"lo":154.9,"t":"lt","g":2},
{"d":"2025-04-30","hi":160.8,"lo":154.9,"t":"lu","g":3},
{"d":"2025-05-08","hi":162,"lo":155.6,"t":"lu","g":3},
{"d":"2025-05-19","hi":163.4,"lo":156.6,"t":"lu","g":3},
{"d":"2025-05-29","hi":165.8,"lo":158.3,"t":"lu","g":3},
{"d":"2025-06-11","hi":168.2,"lo":160.2,"t":"lu","g":3},
{"d":"2025-06-24","hi":170.5,"lo":163,"t":"lu","g":3},
{"d":"2025-07-04","hi":171.6,"lo":164.2,"t":"lu","g":3},
{"d":"2025-07-21","hi":172.5,"lo":165.2,"t":"lu","g":3},
{"d":"2025-08-01","hi":173,"lo":165.9,"t":"lu","g":3},
{"d":"2025-08-11","hi":173.3,"lo":166.4,"t":"lu","g":3},
{"d":"2025-08-11","hi":173.3,"lo":166.4,"t":"lt","g":4},
{"d":"2025-08-18","hi":173.2,"lo":166.8,"t":"lt","g":4},
{"d":"2025-08-29","hi":172.2,"lo":166.7,"t":"lt","g":4},
{"d":"2025-09-12","hi":171,"lo":166.4,"t":"lt","g":4},
{"d":"2025-09-26","hi":170,"lo":165.8,"t":"lt","g":4},
{"d":"2025-10-10","hi":168.7,"lo":165,"t":"lt","g":4},
{"d":"2025-10-24","hi":167.3,"lo":164.3,"t":"lt","g":4},
{"d":"2025-10-31","hi":166.2,"lo":163.6,"t":"lt","g":4},
{"d":"2025-11-07","hi":164,"lo":162.7,"t":"lt","g":4},
{"d":"2025-11-12","hi":161.6,"lo":161.2,"t":"lt","g":4},
{"d":"2025-11-12","hi":161.6,"lo":161.2,"t":"ld","g":5},
{"d":"2025-11-21","hi":159,"lo":157.6,"t":"ld","g":5},
{"d":"2025-12-03","hi":156,"lo":152.9,"t":"ld","g":5},
{"d":"2025-12-15","hi":153.6,"lo":149.6,"t":"ld","g":5},
{"d":"2025-12-29","hi":151.4,"lo":146.4,"t":"ld","g":5},
{"d":"2026-01-09","hi":149.2,"lo":143,"t":"ld","g":5},
{"d":"2026-01-21","hi":146.4,"lo":139,"t":"ld","g":5}
],
"vm":[
{"d":"2024-08-13","m":432000},{"d":"2024-08-29","m":432000},{"d":"2024-09-03","m":360000},{"d":"2024-09-24","m":350000},
{"d":"2024-10-22","m":352000},{"d":"2024-10-30","m":380000},{"d":"2024-11-07","m":420000},{"d":"2024-11-14","m":447000},
{"d":"2024-12-03","m":445000},{"d":"2025-01-03","m":420000},{"d":"2025-01-29","m":405000},{"d":"2025-02-03","m":370000},
{"d":"2025-02-11","m":356000},{"d":"2025-03-03","m":355000},{"d":"2025-03-24","m":355000},{"d":"2025-03-31","m":375000},
{"d":"2025-04-07","m":420000},{"d":"2025-04-16","m":447000},{"d":"2025-05-15","m":465000},{"d":"2025-05-29","m":472000},
{"d":"2025-06-20","m":472000},{"d":"2025-06-26","m":520000},{"d":"2025-07-01","m":560000},{"d":"2025-07-11","m":545000},
{"d":"2025-08-08","m":548000},{"d":"2025-08-13","m":560000},{"d":"2025-08-26","m":590000},{"d":"2025-09-19","m":590000},
{"d":"2025-09-24","m":500000},{"d":"2025-10-03","m":478000},{"d":"2025-10-17","m":475000},{"d":"2025-11-04","m":475000},
{"d":"2025-11-10","m":520000},{"d":"2025-11-14","m":575000},{"d":"2025-11-21","m":615000},{"d":"2025-12-12","m":620000},
{"d":"2026-01-02","m":618000},{"d":"2026-01-21","m":620000}
]
},
"vconcat":[
{
"width":951,"height":455,
"title":{"text":"Xero Limited Ordinary (XRO) - Daily","anchor":"start","orient":"top","offset":-26,"baseline":"bottom","dx":3,"font":"Liberation Sans","fontSize":10.4,"fontWeight":"bold","color":"#000"},
"layer":[
{"data":{"name":"rl"},"mark":{"type":"area","interpolate":"monotone","opacity":1},
"encoding":{
"x":{"field":"d","type":"ordinal","title":null,"scale":{"type":"band","range":[2,927],"paddingInner":0,"paddingOuter":0},
"axis":{"values":["2024-09-02","2024-10-01","2024-11-01","2024-12-02","2025-01-02","2025-02-03","2025-03-03","2025-04-01","2025-05-01","2025-06-02","2025-07-01","2025-08-01","2025-09-01","2025-10-01","2025-11-03","2025-12-01","2026-01-02"],
"bandPosition":0,"labelAngle":0,"labelAlign":"left","labelBaseline":"top","labelOffset":2,"labelPadding":1,"tickSize":3,"labelOverlap":false,"labelFlush":false,"minExtent":14,"maxExtent":14,"title":null,
"labelExpr":"substring(datum.value,5,7) == '01' ? substring(datum.value,0,4) : utcFormat(toDate(datum.value), '%b')"}},
"y":{"field":"hi","type":"quantitative","title":null,"scale":{"domain":[96.3,202.6],"nice":false,"zero":false},
"axis":{"orient":"right","values":[100,110,120,130,140,150,160,170,180,190,200],"tickCount":20,"tickSize":3,"labelAlign":"right","labelBaseline":"middle","labelPadding":43,"labelOverlap":false,"title":null}},
"y2":{"field":"lo"},
"color":{"field":"t","type":"nominal","legend":null,"scale":{"domain":["su","st","sd","lu","lt","ld"],"range":["#00f000","#ff661a","#ffb3b3","#3cb371","#ff661a","#ff7373"]}},
"detail":{"field":"g","type":"nominal"}}},
{"data":{"name":"rs"},"mark":{"type":"area","interpolate":"monotone","opacity":1},
"encoding":{
"x":{"field":"d","type":"ordinal","title":null},
"y":{"field":"hi","type":"quantitative","title":null},
"y2":{"field":"lo"},
"color":{"field":"t","type":"nominal","legend":null},
"detail":{"field":"g","type":"nominal"}}},
{"data":{"name":"px"},"mark":{"type":"rule","strokeWidth":1},
"encoding":{
"x":{"field":"d","type":"ordinal","title":null},
"y":{"field":"l","type":"quantitative","title":null},
"y2":{"field":"h"},
"color":{"condition":{"test":"datum.c < datum.o","value":"#000000"},"value":"#808080"}}},
{"data":{"name":"px"},"mark":{"type":"bar","width":{"band":0.85},"strokeWidth":0.8},
"encoding":{
"x":{"field":"d","type":"ordinal","title":null},
"y":{"field":"o","type":"quantitative","title":null},
"y2":{"field":"c"},
"fill":{"condition":{"test":"datum.c < datum.o","value":"#000000"},"value":"#ffffff"},
"stroke":{"condition":{"test":"datum.c < datum.o","value":"#000000"},"value":"#808080"}}}
]
},
{
"width":951,"height":91,
"title":{"text":"Volume","anchor":"start","orient":"top","offset":-28,"baseline":"bottom","dx":3,"font":"Liberation Sans","fontSize":10,"fontWeight":"bold","color":"#8585c8"},
"layer":[
{"data":{"name":"px"},"mark":{"type":"bar","width":{"band":0.55},"color":"#8a8ad0"},
"encoding":{
"x":{"field":"d","type":"ordinal","title":null,"scale":{"type":"band","range":[2,927],"paddingInner":0,"paddingOuter":0},
"axis":{"orient":"top","labels":false,"ticks":false,"domain":true,"title":null,"minExtent":0,"maxExtent":0}},
"y":{"field":"v","type":"quantitative","title":null,"scale":{"domain":[0,2655000],"nice":false},
"axis":{"orient":"right","values":[500000,1000000,1500000,2000000,2500000],"tickCount":10,"tickSize":3,"labelAlign":"right","labelBaseline":"middle","labelPadding":43,"labelOverlap":false,"title":null,
"labelExpr":"datum.value == 2500000 ? '2.5M' : datum.value == 2000000 ? '2M' : datum.value == 1500000 ? '1.5M' : datum.value == 1000000 ? '1M' : '500,000'"}}}},
{"data":{"name":"vm"},"mark":{"type":"line","color":"#ff0000","strokeWidth":1.5},
"encoding":{
"x":{"field":"d","type":"ordinal","title":null},
"y":{"field":"m","type":"quantitative","title":null}}}
]
}
]
}
